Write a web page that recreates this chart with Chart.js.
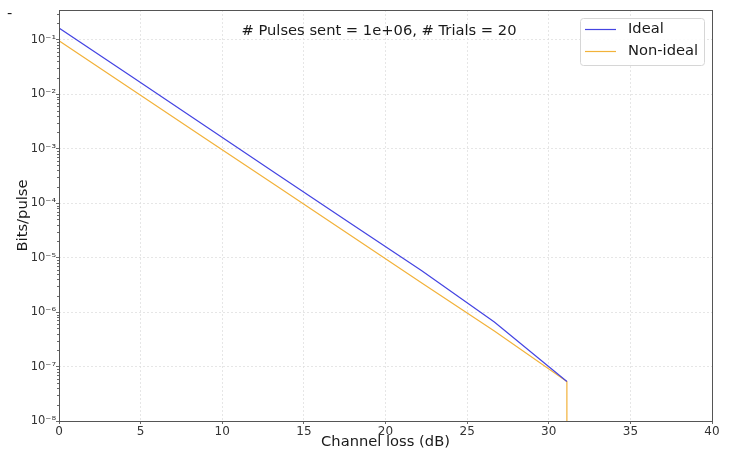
<!DOCTYPE html>
<html>
<head>
<meta charset="utf-8">
<script src="https://cdn.jsdelivr.net/npm/chart.js@4.4.1/dist/chart.umd.min.js"></script>
<style>
  html, body { margin: 0; padding: 0; background: #fff; }
  #grafico { display: block; }
</style>
</head>
<body>
<canvas id="grafico" width="729" height="450"></canvas>
<script>
    // channel loss samples (dB) and key rates
    const lossDb = [0, 4.444, 8.889, 13.333, 17.778, 22.222, 26.667, 31.111];
    const idealBits = [0.164, 0.0210, 2.68e-3, 3.43e-4, 4.39e-5, 5.75e-6, 6.55e-7, 5.3e-8];
    // non-ideal falls to zero after the last point (vertical drop), 1e-20 stands for zero on the log axis
    const nonIdealLoss = [0, 4.444, 8.889, 13.333, 17.778, 22.222, 26.667, 31.111, 31.111];
    const nonIdealBits = [0.095, 0.0123, 1.59e-3, 2.06e-4, 2.65e-5, 3.43e-6, 4.47e-7, 5.3e-8, 1e-20];

    const yTicks = [1e-8, 1e-7, 1e-6, 1e-5, 1e-4, 1e-3, 1e-2, 1e-1];
    const yTickLabels = ['10⁻⁸', '10⁻⁷', '10⁻⁶', '10⁻⁵', '10⁻⁴', '10⁻³', '10⁻²', '10⁻¹'];
    const seriesNames = ['Ideal', 'Non-ideal'];
    const seriesColors = ['#4444e2', '#f2b23a'];
    const titulo = '# Pulses sent = 1e+06, # Trials = 20';

    const fonte = 'DejaVu Sans';

    const extras = {
      id: 'extras',
      afterDraw(chart) {
        const ctx = chart.ctx;
        const area = chart.chartArea;
        const y = chart.scales.y;

        ctx.save();
        // minor ticks on the log axis
        ctx.strokeStyle = '#444';
        ctx.lineWidth = 0.8;
        for (let e = -8; e <= 0; e++) {
          for (let m = 2; m <= 9; m++) {
            const v = m * Math.pow(10, e);
            if (v > y.max) break;
            const py = Math.round(y.getPixelForValue(v)) + 0.5;
            ctx.beginPath();
            ctx.moveTo(area.left - 2, py);
            ctx.lineTo(area.left, py);
            ctx.stroke();
          }
        }

        // frame
        ctx.strokeStyle = '#555';
        ctx.lineWidth = 1;
        ctx.strokeRect(Math.round(area.left) + 0.5, Math.round(area.top) + 0.5,
          Math.round(area.right - area.left), Math.round(area.bottom - area.top));

        // annotation
        ctx.fillStyle = '#1a1a1a';
        ctx.font = '14.7px "' + fonte + '"';
        ctx.textAlign = 'center';
        ctx.textBaseline = 'middle';
        ctx.fillText(titulo, 379, 31);

        // legend
        ctx.beginPath();
        ctx.roundRect(580.5, 18.5, 124, 47, 3);
        ctx.fillStyle = 'rgba(255,255,255,0.85)';
        ctx.fill();
        ctx.strokeStyle = '#d6d6d6';
        ctx.stroke();
        ctx.textAlign = 'left';
        chart.data.datasets.forEach((ds, i) => {
          const ly = 29.5 + i * 22;
          ctx.strokeStyle = ds.borderColor;
          ctx.lineWidth = 1.2;
          ctx.beginPath();
          ctx.moveTo(585, ly);
          ctx.lineTo(616, ly);
          ctx.stroke();
          ctx.fillStyle = '#1a1a1a';
          ctx.fillText(ds.label, 628, ly);
        });

        // stray mark at top-left
        ctx.fillText('-', 7, 14);
        ctx.restore();
      }
    };

    const ctx = document.getElementById('grafico').getContext('2d');
    const grafico = new Chart(ctx, {
      type: 'line',
      data: {
        datasets: [{
          label: seriesNames[0],
          data: lossDb.map((x, i) => ({ x, y: idealBits[i] })),
          borderColor: seriesColors[0],
          backgroundColor: seriesColors[0]
        }, {
          label: seriesNames[1],
          data: nonIdealLoss.map((x, i) => ({ x, y: nonIdealBits[i] })),
          borderColor: seriesColors[1],
          backgroundColor: seriesColors[1]
        }]
      },
      options: {
        responsive: false,
        animation: false,
        devicePixelRatio: 1,
        layout: { padding: { top: 10, right: 17, left: 0, bottom: 0 } },
        elements: {
          point: { radius: 0 },
          line: { borderWidth: 1.2, tension: 0 }
        },
        plugins: {
          legend: { display: false },
          tooltip: { enabled: false }
        },
        scales: {
          x: {
            type: 'linear',
            min: 0,
            max: 40,
            afterFit: s => { s.height = 29; },
            ticks: { stepSize: 5, color: '#333', padding: 1, font: { family: fonte, size: 12 } },
            grid: { color: '#e0e0e0', lineWidth: 0.8, tickLength: 3, tickColor: '#444' },
            border: { display: false, dash: [2, 2] },
            title: {
              display: true, text: 'Channel loss (dB)', color: '#1a1a1a',
              font: { family: fonte, size: 14.7 }, padding: { top: 0, bottom: -1 }
            }
          },
          y: {
            type: 'logarithmic',
            min: 1e-8,
            max: 0.35,
            afterFit: s => { s.width = 59; },
            afterBuildTicks: s => { s.ticks = yTicks.map(v => ({ value: v, major: true })); },
            ticks: {
              autoSkip: false, color: '#333', padding: 0,
              font: { family: fonte, size: 11.5 },
              callback: (v, i) => yTickLabels[i]
            },
            grid: { color: '#e0e0e0', lineWidth: 0.8, tickLength: 3, tickColor: '#444' },
            border: { display: false, dash: [2, 2] },
            title: {
              display: true, text: 'Bits/pulse', color: '#1a1a1a',
              font: { family: fonte, size: 14.7 }, padding: { top: 14, bottom: 0 }
            }
          }
        }
      },
      plugins: [extras]
    });
</script>
</body>
</html>
